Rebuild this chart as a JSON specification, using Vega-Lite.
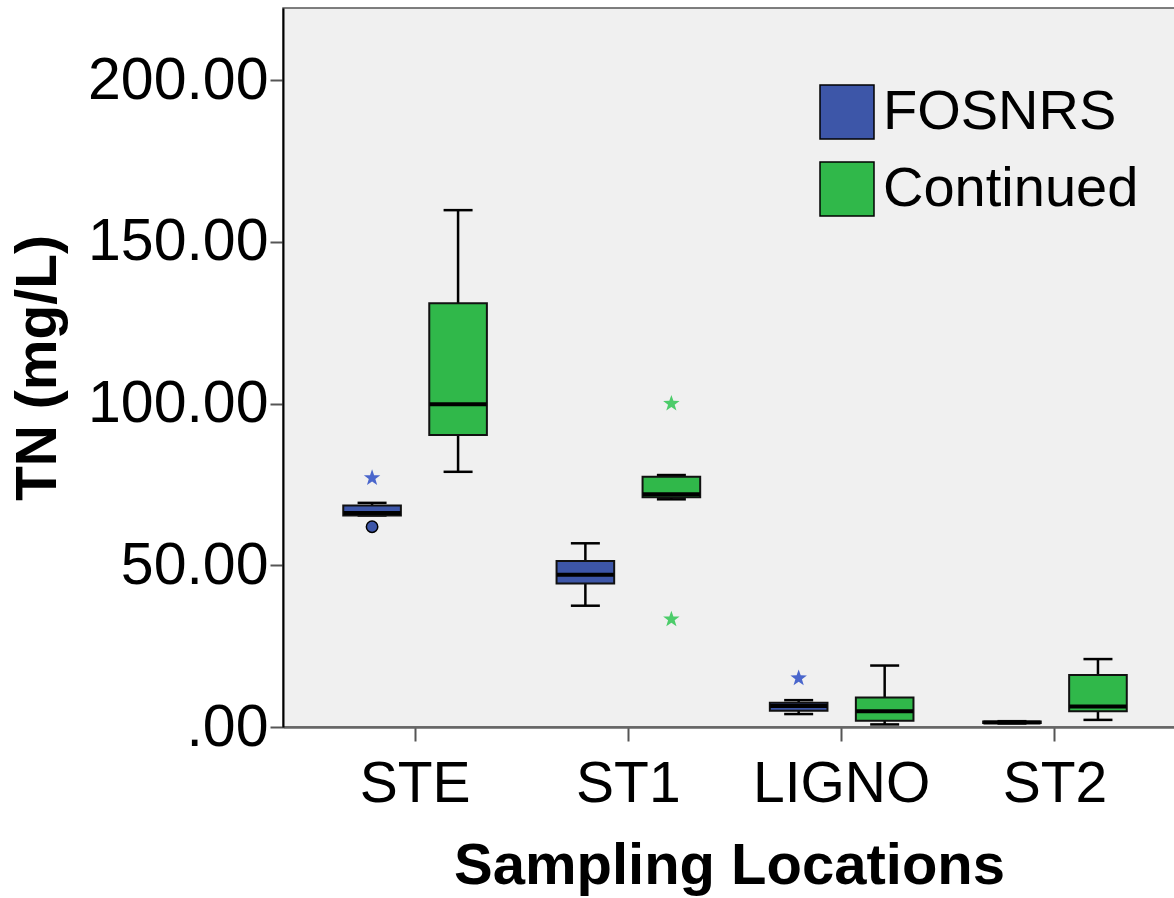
{
  "$schema": "https://vega.github.io/schema/vega-lite/v6.json",
  "width": 892,
  "height": 719,
  "autosize": {"type": "none"},
  "padding": {"left": 283, "top": 8, "right": 0, "bottom": 171},
  "background": "white",
  "config": {
    "view": {"fill": "#f0f0f0", "stroke": "#555555", "strokeWidth": 1.5},
    "font": "Liberation Sans"
  },
  "datasets": {
    "boxes": [
      {"loc": "STE", "group": "FOSNRS", "lo": 65.4, "q1": 65.4, "med": 66.2, "q3": 68.5, "hi": 69.3},
      {"loc": "STE", "group": "Continued", "lo": 78.9, "q1": 90.3, "med": 99.8, "q3": 131.0, "hi": 159.8},
      {"loc": "ST1", "group": "FOSNRS", "lo": 37.5, "q1": 44.4, "med": 47.1, "q3": 51.3, "hi": 56.8},
      {"loc": "ST1", "group": "Continued", "lo": 70.4, "q1": 71.0, "med": 72.0, "q3": 77.4, "hi": 77.9},
      {"loc": "LIGNO", "group": "FOSNRS", "lo": 4.0, "q1": 5.0, "med": 6.5, "q3": 7.5, "hi": 8.3},
      {"loc": "LIGNO", "group": "Continued", "lo": 0.8, "q1": 1.9, "med": 4.9, "q3": 9.1, "hi": 19.0},
      {"loc": "ST2", "group": "FOSNRS", "lo": 1.1, "q1": 1.2, "med": 1.4, "q3": 1.7, "hi": 1.8},
      {"loc": "ST2", "group": "Continued", "lo": 2.2, "q1": 4.9, "med": 6.3, "q3": 16.1, "hi": 21.0}
    ],
    "outliers": [
      {"loc": "STE", "group": "FOSNRS", "value": 61.9, "kind": "circle"},
      {"loc": "STE", "group": "FOSNRS", "value": 77.0, "kind": "star"},
      {"loc": "ST1", "group": "Continued", "value": 100.0, "kind": "star"},
      {"loc": "ST1", "group": "Continued", "value": 33.3, "kind": "star"},
      {"loc": "LIGNO", "group": "FOSNRS", "value": 15.1, "kind": "star"}
    ]
  },
  "encoding": {
    "x": {
      "field": "loc", "type": "nominal",
      "sort": ["STE", "ST1", "LIGNO", "ST2"],
      "scale": {"domain": ["STE", "ST1", "LIGNO", "ST2"], "paddingInner": 0, "paddingOuter": 0.091, "align": 0.655},
      "axis": {
        "orient": "bottom",
        "title": "Sampling Locations", "titleFontSize": 58, "titleFontWeight": "bold", "titleColor": "black",
        "titlePadding": 25, "titleFont": "Liberation Sans",
        "labelFontSize": 57, "labelColor": "black", "labelAngle": 0, "labelPadding": 15, "labelFont": "Liberation Sans",
        "tickSize": 14, "tickColor": "#555555", "tickWidth": 2,
        "domainColor": "#666666", "domainWidth": 2.5, "grid": false
      }
    },
    "xOffset": {
      "field": "group", "type": "nominal",
      "scale": {"domain": ["FOSNRS", "Continued"], "paddingInner": 0.33, "paddingOuter": 0.405}
    }
  },
  "layer": [
    {
      "data": {"name": "boxes"},
      "mark": {"type": "rule", "color": "black", "strokeWidth": 2.5},
      "encoding": {
        "y": {
          "field": "lo", "type": "quantitative",
          "scale": {"domain": [0, 222.3], "nice": false, "zero": true},
          "axis": {
            "orient": "left",
            "title": "TN (mg/L)", "titleFontSize": 57, "titleFontWeight": "bold", "titleColor": "black",
            "titlePadding": 20, "titleFont": "Liberation Sans",
            "values": [0, 50, 100, 150, 200],
            "labelExpr": "datum.value == 0 ? '.00' : format(datum.value, '.2f')",
            "labelFontSize": 59, "labelColor": "black", "labelPadding": 2, "labelFont": "Liberation Sans",
            "labelLimit": 400,
            "tickSize": 13, "tickColor": "#555555", "tickWidth": 2,
            "domainColor": "black", "domainWidth": 2, "grid": false
          }
        },
        "y2": {"field": "hi"}
      }
    },
    {
      "data": {"name": "boxes"},
      "mark": {"type": "tick", "color": "black", "size": 29, "thickness": 2.5, "opacity": 1},
      "encoding": {"y": {"field": "lo", "type": "quantitative"}}
    },
    {
      "data": {"name": "boxes"},
      "mark": {"type": "tick", "color": "black", "size": 29, "thickness": 2.5, "opacity": 1},
      "encoding": {"y": {"field": "hi", "type": "quantitative"}}
    },
    {
      "data": {"name": "boxes"},
      "mark": {"type": "bar", "stroke": "#111111", "strokeWidth": 2, "opacity": 1},
      "encoding": {
        "y": {"field": "q1", "type": "quantitative"},
        "y2": {"field": "q3"},
        "color": {
          "field": "group", "type": "nominal",
          "scale": {"domain": ["FOSNRS", "Continued"], "range": ["#3d56a8", "#30b84a"]},
          "legend": {
            "title": "", "orient": "none", "legendX": 536, "legendY": 76,
            "direction": "vertical",
            "symbolType": "square", "symbolSize": 2916, "symbolStrokeColor": "black", "symbolStrokeWidth": 1.5,
            "labelFontSize": 56, "labelFont": "Liberation Sans", "labelColor": "black", "labelOffset": 8,
            "labelLimit": 500, "rowPadding": 17
          }
        }
      }
    },
    {
      "data": {"name": "boxes"},
      "mark": {"type": "tick", "color": "black", "size": 57, "thickness": 4, "opacity": 1},
      "encoding": {"y": {"field": "med", "type": "quantitative"}}
    },
    {
      "data": {"name": "outliers"},
      "transform": [{"filter": "datum.kind == 'circle'"}],
      "mark": {"type": "point", "shape": "circle", "filled": true, "fill": "#3d56a8", "stroke": "black", "strokeWidth": 1.5, "size": 130, "opacity": 1},
      "encoding": {"y": {"field": "value", "type": "quantitative"}}
    },
    {
      "data": {"name": "outliers"},
      "transform": [{"filter": "datum.kind == 'star' && datum.group == 'FOSNRS'"}],
      "mark": {"type": "point", "shape": "M0,-1L0.235,-0.324L0.951,-0.309L0.38,0.124L0.588,0.809L0,0.4L-0.588,0.809L-0.38,0.124L-0.951,-0.309L-0.235,-0.324Z", "filled": true, "color": "#4a66cc", "size": 300, "opacity": 1},
      "encoding": {"y": {"field": "value", "type": "quantitative"}}
    },
    {
      "data": {"name": "outliers"},
      "transform": [{"filter": "datum.kind == 'star' && datum.group == 'Continued'"}],
      "mark": {"type": "point", "shape": "M0,-1L0.235,-0.324L0.951,-0.309L0.38,0.124L0.588,0.809L0,0.4L-0.588,0.809L-0.38,0.124L-0.951,-0.309L-0.235,-0.324Z", "filled": true, "color": "#4ccc6a", "size": 300, "opacity": 1},
      "encoding": {"y": {"field": "value", "type": "quantitative"}}
    }
  ]
}
